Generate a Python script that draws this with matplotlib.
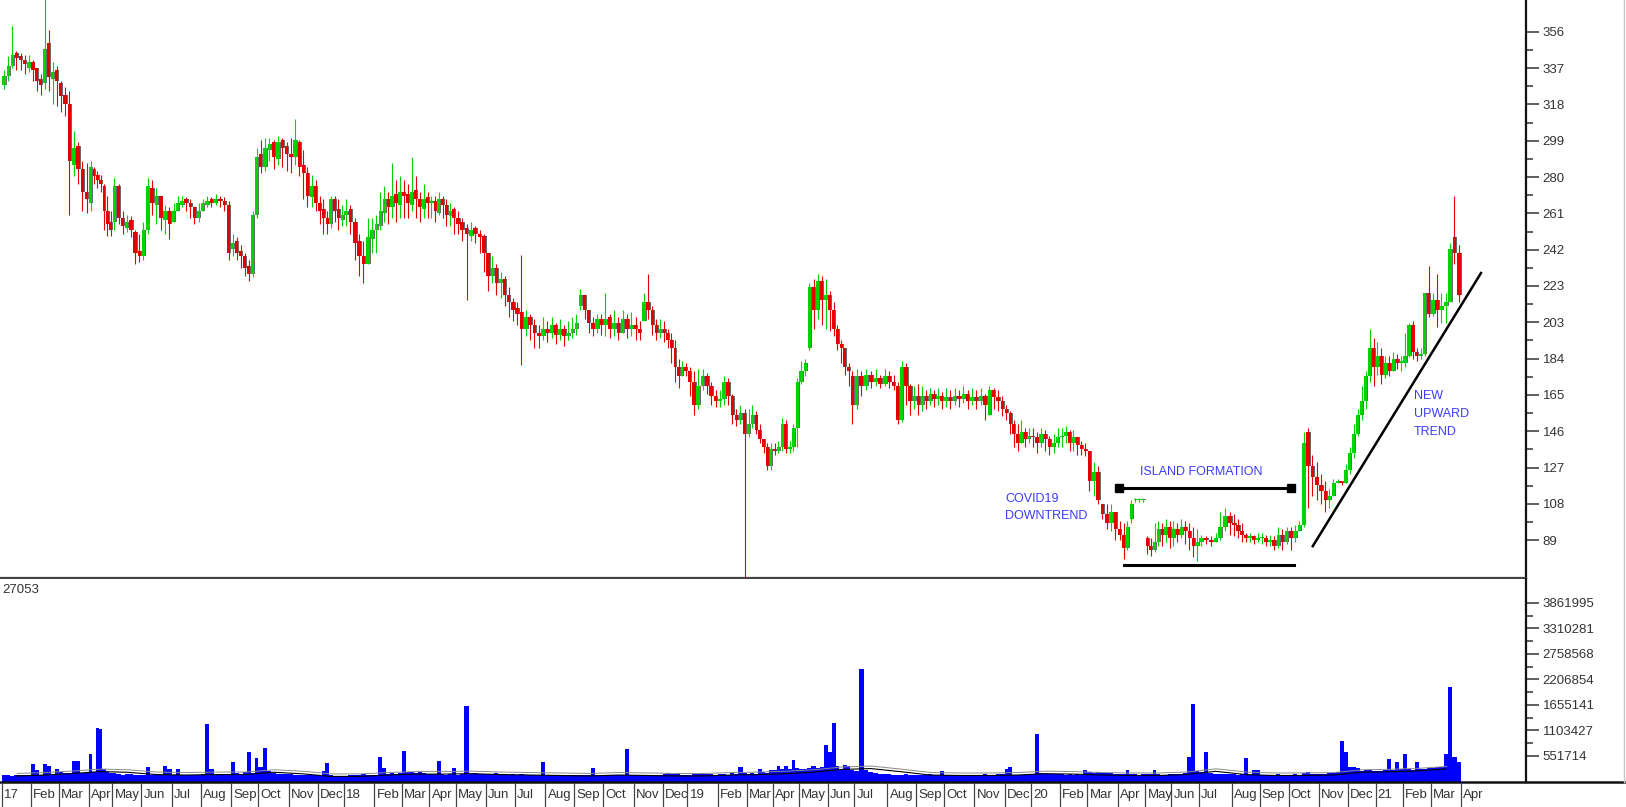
import numpy as np
import matplotlib
matplotlib.use("Agg")
import matplotlib.pyplot as plt
import matplotlib.patheffects as pe
from matplotlib.lines import Line2D
from matplotlib.patches import Rectangle

plt.rcParams['font.family'] = ['Liberation Sans', 'DejaVu Sans']

# trading days per month, Jan 2017 .. Mar 2021
month_days = [
    21, 20, 22, 17, 21, 22, 21, 22, 20, 22, 21, 19,   # 2017
    22, 20, 20, 19, 22, 21, 22, 21, 21, 22, 21, 18,   # 2018
    22, 21, 19, 19, 21, 19, 24, 21, 20, 22, 22, 19,   # 2019
    21, 20, 22, 20, 19, 20, 24, 20, 21, 22, 21, 20,   # 2020
    20, 20, 22,                                       # 2021
]
month_labels = (
    ['17', 'Feb', 'Mar', 'Apr', 'May', 'Jun', 'Jul', 'Aug', 'Sep', 'Oct', 'Nov', 'Dec']
    + ['18', 'Feb', 'Mar', 'Apr', 'May', 'Jun', 'Jul', 'Aug', 'Sep', 'Oct', 'Nov', 'Dec']
    + ['19', 'Feb', 'Mar', 'Apr', 'May', 'Jun', 'Jul', 'Aug', 'Sep', 'Oct', 'Nov', 'Dec']
    + ['20', 'Feb', 'Mar', 'Apr', 'May', 'Jun', 'Jul', 'Aug', 'Sep', 'Oct', 'Nov', 'Dec']
    + ['21', 'Feb', 'Mar', 'Apr']
)
BARS_PER_MONTH = 7

# price bars (7 per month), one row per month
opens = [
    328, 333, 338, 345, 343, 341, 337,
    340, 337, 331, 329, 350, 331, 336,
    329, 323, 318, 286, 296, 284, 272,
    266, 284, 281, 278, 275, 262, 256,
    256, 275, 258, 253, 257, 251, 241,
    238, 252, 274, 265, 270, 257, 262,
    256, 262, 265, 268, 266, 264, 258,
    262, 265, 268, 266, 268, 267, 265,
    242, 246, 241, 238, 233, 229, 260,
    292, 285, 294, 298, 289, 299, 296,
    292, 290, 298, 286, 282, 269, 275,
    266, 263, 258, 255, 268, 263, 257,
    # 2018
    260, 263, 256, 246, 238, 234, 247,
    252, 254, 261, 268, 264, 271, 265,
    272, 271, 265, 273, 268, 263, 269,
    266, 267, 261, 268, 265, 259, 263,
    258, 256, 253, 249, 253, 250, 249,
    240, 228, 232, 224, 226, 218, 214,
    211, 209, 200, 206, 202, 198, 196,
    200, 198, 202, 197, 200, 196, 198,
    200, 212, 218, 210, 203, 200, 205,
    202, 206, 200, 203, 198, 205, 200,
    202, 200, 204, 214, 210, 202, 198,
    200, 198, 194, 190, 180, 175, 180,
    # 2019
    178, 172, 160, 170, 175, 170, 165,
    162, 163, 172, 165, 155, 152, 156,
    145, 150, 155, 147, 142, 138, 128,
    137, 136, 138, 150, 137, 138, 148,
    172, 178, 190, 222, 210, 225, 215,
    218, 210, 200, 192, 190, 180, 175,
    160, 175, 170, 176, 172, 174, 171,
    175, 172, 170, 152, 180, 170, 162,
    165, 160, 165, 162, 166, 163, 165,
    162, 164, 162, 165, 163, 166, 162,
    164, 162, 165, 155, 168, 164, 162,
    158, 156, 150, 145, 140, 146, 142,
    # 2020
    144, 143, 140, 145, 142, 138, 140,
    143, 144, 146, 140, 143, 139, 137,
    136, 120, 125, 108, 103, 98, 104,
    95, 92, 85, 100, 110, 110, 110,
    90, 86, 84, 88, 95, 92, 96,
    90, 95, 92, 96, 94, 90, 86,
    88, 90, 89, 88, 90, 96, 102,
    98, 97, 94, 92, 90, 91, 89,
    90, 90, 88, 89, 86, 92, 88,
    94, 90, 94, 97, 146, 128, 122,
    118, 115, 110, 112, 119, 120, 119,
    126, 135, 145, 155, 162, 175, 190,
    # 2021
    180, 186, 176, 182, 178, 184, 182,
    182, 186, 202, 188, 186, 187, 219,
    208, 215, 210, 212, 214, 248, 240,
]
highs = [
    336, 343, 359, 346, 345, 344, 344,
    341, 337, 334, 376, 357, 340, 338,
    330, 327, 325, 304, 298, 288, 287,
    288, 285, 283, 281, 276, 270, 262,
    279, 276, 262, 260, 259, 252, 250,
    256, 279, 278, 274, 270, 265, 264,
    266, 270, 270, 269, 268, 264, 266,
    268, 270, 269, 271, 270, 269, 267,
    250, 248, 244, 240, 236, 262, 295,
    299, 300, 300, 299, 301, 300, 298,
    300, 310, 299, 294, 285, 281, 278,
    270, 268, 262, 270, 270, 268, 265,
    # 2018
    268, 265, 258, 250, 246, 258, 258,
    260, 272, 275, 272, 287, 278, 280,
    278, 276, 290, 280, 272, 276, 272,
    270, 270, 272, 270, 268, 266, 264,
    262, 258, 255, 256, 254, 252, 250,
    240, 238, 234, 230, 228, 222, 216,
    214, 239, 210, 208, 205, 202, 206,
    204, 206, 203, 205, 202, 204, 206,
    208, 221, 218, 210, 206, 208, 208,
    219, 208, 210, 206, 210, 208, 209,
    206, 204, 219, 229, 212, 205, 205,
    204, 200, 198, 194, 184, 183, 182,
    # 2019
    180, 178, 179, 179, 177, 172, 168,
    168, 175, 174, 166, 158, 160, 158,
    158, 160, 157, 150, 142, 140, 140,
    140, 141, 153, 152, 141, 150, 174,
    183, 184, 224, 226, 229, 228, 226,
    220, 214, 202, 194, 190, 182, 178,
    179, 178, 179, 178, 179, 176, 179,
    178, 176, 172, 183, 182, 171, 170,
    171, 170, 168, 169, 168, 169, 167,
    169, 168, 169, 168, 170, 168, 169,
    168, 169, 166, 170, 169, 168, 165,
    160, 157, 152, 150, 152, 148, 148,
    # 2020
    148, 146, 148, 147, 144, 145, 148,
    148, 149, 147, 147, 143, 141, 140,
    136, 130, 128, 108, 108, 108, 104,
    99, 98, 99, 110, 111, 111, 111,
    91, 90, 98, 99, 98, 100, 99,
    99, 98, 100, 99, 98, 96, 95,
    92, 91, 91, 93, 104, 106, 104,
    103, 100, 98, 93, 93, 92, 93,
    93, 92, 92, 91, 96, 95, 96,
    96, 97, 99, 146, 148, 134, 130,
    124, 120, 116, 121, 121, 120, 129,
    138, 150, 158, 170, 178, 200, 195,
    # 2021
    193, 190, 186, 186, 188, 187, 186,
    198, 203, 204, 190, 190, 219, 233,
    219, 229, 219, 219, 245, 270, 244,
]
lows = [
    326, 330, 337, 336, 336, 334, 335,
    330, 325, 323, 326, 325, 318, 317,
    314, 312, 260, 280, 276, 262, 261,
    262, 276, 274, 272, 252, 249, 249,
    252, 255, 250, 251, 248, 234, 235,
    236, 250, 260, 255, 252, 250, 247,
    257, 262, 264, 262, 258, 255, 256,
    263, 264, 264, 265, 264, 262, 236,
    238, 236, 232, 228, 225, 227, 258,
    282, 283, 288, 284, 286, 285, 283,
    282, 286, 280, 268, 264, 264, 262,
    255, 250, 250, 253, 256, 252, 254,
    # 2018
    254, 250, 236, 228, 224, 234, 240,
    240, 252, 256, 255, 258, 256, 258,
    258, 258, 262, 258, 256, 258, 258,
    258, 256, 260, 258, 254, 254, 250,
    250, 246, 215, 246, 245, 240, 230,
    220, 224, 218, 216, 212, 206, 204,
    202, 181, 196, 194, 190, 190, 194,
    193, 195, 192, 194, 191, 194, 195,
    197, 210, 205, 198, 196, 198, 197,
    196, 195, 196, 194, 198, 195, 196,
    194, 194, 204, 205, 197, 194, 195,
    193, 190, 182, 172, 169, 175, 175,
    # 2019
    165, 155, 158, 168, 166, 160, 159,
    159, 160, 160, 150, 149, 150, 68,
    143, 148, 145, 140, 135, 126, 126,
    134, 135, 136, 135, 135, 136, 138,
    171, 175, 189, 200, 205, 202, 200,
    199, 196, 189, 182, 176, 170, 150,
    158, 165, 168, 169, 170, 169, 170,
    169, 168, 150, 151, 160, 155, 158,
    155, 157, 158, 160, 159, 160, 158,
    159, 158, 160, 159, 161, 158, 160,
    158, 160, 152, 155, 158, 157, 154,
    152, 145, 138, 136, 140, 138, 140,
    # 2020
    138, 135, 138, 136, 134, 135, 138,
    138, 140, 136, 136, 134, 134, 133,
    115, 112, 108, 100, 95, 94, 89,
    89, 79, 84, 98, 109, 109, 109,
    82, 81, 83, 86, 86, 88, 85,
    86, 88, 90, 87, 84, 80, 78,
    86, 87, 86, 88, 89, 94, 92,
    91, 90, 88, 88, 88, 87, 88,
    87, 86, 86, 84, 85, 84, 87,
    84, 88, 94, 96, 106, 112, 110,
    108, 104, 106, 115, 119, 118, 119,
    124, 132, 144, 152, 158, 172, 170,
    # 2021
    176, 171, 174, 175, 179, 179, 178,
    180, 185, 184, 183, 184, 186, 206,
    207, 201, 203, 203, 214, 234, 214,
]
closes = [
    333, 338, 344, 342, 341, 339, 340,
    336, 330, 328, 347, 332, 335, 330,
    322, 318, 288, 295, 284, 272, 268,
    285, 280, 278, 276, 262, 255, 252,
    275, 258, 254, 256, 252, 240, 238,
    252, 275, 266, 270, 258, 262, 255,
    262, 266, 267, 266, 264, 258, 262,
    266, 267, 266, 268, 267, 265, 240,
    245, 240, 238, 232, 229, 260, 290,
    285, 295, 297, 290, 298, 295, 292,
    290, 299, 285, 282, 270, 275, 266,
    262, 258, 255, 268, 262, 258, 260,
    # 2018
    262, 256, 245, 238, 234, 248, 252,
    255, 262, 268, 264, 270, 266, 272,
    270, 266, 272, 268, 264, 268, 266,
    266, 262, 268, 265, 260, 262, 258,
    255, 252, 250, 252, 250, 248, 240,
    228, 232, 224, 226, 218, 214, 210,
    208, 200, 206, 202, 198, 196, 200,
    198, 202, 197, 200, 196, 198, 200,
    203, 218, 210, 203, 200, 205, 202,
    205, 200, 203, 198, 205, 200, 202,
    200, 198, 214, 210, 202, 198, 200,
    198, 194, 190, 180, 175, 180, 178,
    # 2019
    172, 160, 170, 175, 170, 165, 162,
    163, 172, 165, 155, 152, 156, 145,
    150, 155, 147, 142, 138, 128, 137,
    136, 138, 150, 137, 138, 148, 172,
    178, 182, 222, 210, 225, 215, 218,
    210, 200, 192, 190, 180, 178, 160,
    175, 170, 176, 172, 174, 171, 175,
    172, 170, 152, 180, 170, 162, 165,
    160, 165, 162, 166, 163, 165, 162,
    164, 162, 165, 163, 166, 162, 164,
    162, 165, 160, 168, 164, 162, 158,
    156, 150, 145, 140, 146, 142, 144,
    # 2020
    143, 140, 145, 142, 138, 140, 143,
    144, 146, 140, 143, 139, 137, 136,
    120, 125, 110, 103, 98, 104, 95,
    92, 85, 96, 108, 110, 110, 110,
    86, 84, 88, 95, 92, 96, 90,
    95, 92, 96, 94, 90, 86, 88,
    90, 89, 88, 90, 96, 102, 98,
    97, 94, 92, 90, 91, 89, 90,
    90, 88, 89, 86, 92, 88, 94,
    90, 94, 97, 140, 128, 122, 118,
    115, 110, 112, 119, 120, 119, 126,
    135, 145, 155, 162, 175, 190, 180,
    # 2021
    186, 176, 182, 178, 184, 182, 182,
    186, 202, 188, 186, 187, 219, 208,
    215, 210, 212, 214, 242, 240, 218,
]

# volume per bar, thousands of shares
volumes_k = [
    130, 140, 120, 130, 140, 130, 150,
    370, 250, 150, 380, 330, 160, 270,
    200, 180, 190, 450, 436, 180, 200,
    587, 200, 1150, 1130, 273, 200, 180,
    180, 160, 150, 170, 160, 140, 150,
    150, 320, 150, 160, 150, 330, 273,
    150, 270, 140, 130, 140, 130, 140,
    160, 1235, 260, 150, 140, 130, 150,
    420, 180, 170, 200, 630, 190, 500,
    320, 717, 220, 180, 170, 160, 170,
    160, 150, 140, 150, 140, 130, 150,
    140, 220, 393, 130, 120, 110, 120,
    # 2018
    120, 130, 140, 150, 160, 140, 130,
    150, 523, 290, 170, 180, 170, 180,
    665, 200, 210, 190, 200, 180, 170,
    170, 160, 443, 160, 150, 160, 285,
    150, 160, 1637, 170, 180, 170, 160,
    170, 160, 180, 170, 160, 150, 160,
    150, 160, 150, 140, 150, 140, 415,
    150, 140, 150, 140, 150, 130, 140,
    140, 130, 150, 140, 285, 140, 130,
    140, 150, 140, 130, 150, 702, 140,
    130, 140, 150, 140, 130, 140, 150,
    170, 180, 160, 170, 190, 150, 140,
    # 2019
    150, 160, 170, 180, 160, 170, 150,
    160, 170, 150, 180, 160, 307, 180,
    170, 180, 160, 270, 200, 190, 250,
    240, 335, 260, 330, 280, 464, 290,
    260, 280, 300, 335, 290, 310, 788,
    644, 1263, 345, 250, 360, 330, 250,
    220, 2430, 250, 200, 180, 170, 160,
    160, 150, 140, 150, 160, 150, 140,
    150, 140, 150, 160, 150, 140, 233,
    150, 140, 150, 140, 130, 140, 150,
    140, 150, 160, 140, 150, 160, 170,
    260, 307, 150, 140, 130, 140, 150,
    # 2020
    160, 1020, 180, 170, 160, 170, 160,
    160, 150, 160, 150, 160, 150, 250,
    200, 190, 210, 200, 190, 180, 170,
    170, 160, 250, 170, 160, 150, 160,
    160, 170, 250, 160, 150, 140, 160,
    160, 170, 160, 180, 523, 1667, 220,
    200, 637, 180, 170, 160, 170, 160,
    160, 150, 160, 500, 150, 250, 250,
    150, 140, 150, 140, 160, 150, 140,
    150, 160, 150, 180, 200, 170, 160,
    160, 170, 180, 190, 200, 881, 637,
    320, 320, 300, 220, 250, 240, 230,
    # 2021
    220, 230, 240, 480, 250, 413, 260,
    587, 260, 250, 421, 280, 270, 300,
    300, 310, 320, 587, 2050, 536, 418,
]

# volume moving average, one reading per month, thousands
vol_ma_k = [
    120, 140, 175, 215, 200, 150, 140, 150, 150, 200, 165, 110,
    110, 140, 160, 160, 170, 150, 140, 130, 120, 140, 130, 120,
    120, 140, 150, 170, 200, 260, 280, 210, 140, 130, 130, 140,
    170, 160, 140, 130, 130, 150, 220, 150, 130, 130, 140, 200,
    210, 230, 270,
]

price_tick_labels = ['89', '108', '127', '146', '165', '184', '203', '223',
                     '242', '261', '280', '299', '318', '337', '356']
vol_tick_labels = ['551714', '1103427', '1655141', '2206854',
                   '2758568', '3310281', '3861995']

# ---- layout (pixels) ----
W, H = 1626, 807
AXIS_X = 1526
X0_PX = 2.0                 # left edge of Jan 2017
PX_PER_DAY = 1459 / 1058.0

RED = '#e40000'
GREEN = '#00d400'
BLUE_TXT = '#3b3bff'
TXT = '#333333'


def frac(x0, y0, x1, y1):
    return [x0 / W, 1 - y1 / H, (x1 - x0) / W, (y1 - y0) / H]


starts = np.concatenate([[0], np.cumsum(month_days)])
x, step = [], []
for m, nd in enumerate(month_days):
    s = nd / BARS_PER_MONTH
    for k in range(BARS_PER_MONTH):
        x.append(starts[m] + (k + 0.5) * s)
        step.append(s)
x = np.array(x)
step = np.array(step)

o = np.array(opens, float)
h = np.array(highs, float)
l = np.array(lows, float)
c = np.array(closes, float)
h = np.maximum(h, np.maximum(o, c))
l = np.minimum(l, np.minimum(o, c))
up = c >= o
cols = np.where(up, GREEN, RED)
body_bot = np.minimum(o, c)
body_h = np.maximum(np.abs(c - o), 0.9)

xlim = (-X0_PX / PX_PER_DAY, (AXIS_X - X0_PX) / PX_PER_DAY)

fig = plt.figure(figsize=(W / 100, H / 100), dpi=100)
ax = fig.add_axes(frac(0, 0, AXIS_X, 578))
axv = fig.add_axes(frac(0, 579, AXIS_X, 781.5))
axm = fig.add_axes(frac(0, 782.5, AXIS_X, 807))

# ---- price panel ----
bw = 0.8 * step
ax.bar(x + 0.7, body_h, bottom=body_bot, width=bw, color='#6a6a6a', lw=0, zorder=1)
ax.vlines(x, l, h, colors=cols, lw=0.8, zorder=2)
ax.bar(x, body_h, bottom=body_bot, width=bw, color=cols, lw=0, zorder=3)

ax.set_xlim(*xlim)
ax.set_ylim(69.2, 372.65)
pt = np.linspace(89, 356, len(price_tick_labels))
ax.set_yticks(pt, price_tick_labels)
ax.set_yticks((pt[:-1] + pt[1:]) / 2, minor=True)
ax.yaxis.tick_right()
ax.set_xticks([])
ax.tick_params(axis='y', which='major', length=9.5, width=1.1, color='#333',
               pad=2.5, labelsize=9.5, labelcolor=TXT)
ax.tick_params(axis='y', which='minor', length=5, width=1.1, color='#333')
for side in ['left', 'top']:
    ax.spines[side].set_visible(False)
ax.spines['right'].set_linewidth(1.6)
ax.spines['right'].set_color('#111')
ax.spines['bottom'].set_linewidth(1.6)
ax.spines['bottom'].set_color('#444')

# annotations
ax.plot([810.2, 934.5], [116.7, 116.7], color='black', lw=2.2, marker='s', ms=5.5,
        zorder=5)
ax.plot([813.5, 937.0], [76.2, 76.2], color='black', lw=2.2, zorder=5)
ax.plot([950.5, 1072.5], [85.9, 229.3], color='black', lw=1.8, zorder=5)
ax.text(825.2, 124.6, 'ISLAND FORMATION', color=BLUE_TXT, fontsize=9,
        va='center', ha='left')
ax.text(727.3, 110.5, 'COVID19', color=BLUE_TXT, fontsize=9, va='center', ha='left')
ax.text(727.3, 101.6, 'DOWNTREND', color=BLUE_TXT, fontsize=9, va='center', ha='left')
for txt, yv in [('NEW', 164.6), ('UPWARD', 155.2), ('TREND', 145.7)]:
    ax.text(1023.9, yv, txt, color=BLUE_TXT, fontsize=9, va='center', ha='left')

# ---- volume panel ----
vol = np.array(volumes_k, float) * 1000
axv.bar(x, vol, width=step, color='#0000ff', lw=0, zorder=2)
centers = starts[:-1] + np.array(month_days) / 2
axv.plot(centers, np.array(vol_ma_k) * 1000, color='black', lw=0.8, zorder=3,
         path_effects=[pe.SimpleLineShadow(offset=(0.6, 1.8), shadow_color='#8a8a8a',
                                           alpha=1.0, linewidth=0.7), pe.Normal()])
axv.set_xlim(*xlim)
axv.set_ylim(0, 4381000)
vt = 551713.57 * np.arange(1, len(vol_tick_labels) + 1)
axv.set_yticks(vt, vol_tick_labels)
axv.set_yticks((vt[:-1] + vt[1:]) / 2, minor=True)
axv.yaxis.tick_right()
axv.set_xticks([])
axv.tick_params(axis='y', which='major', length=9.5, width=1.1, color='#333',
                pad=2.5, labelsize=9.5, labelcolor=TXT)
axv.tick_params(axis='y', which='minor', length=5, width=1.1, color='#333')
for side in ['left', 'top', 'bottom']:
    axv.spines[side].set_visible(False)
axv.spines['right'].set_linewidth(1.6)
axv.spines['right'].set_color('#111')
axv.text(0.0015, 0.946, '27053', transform=axv.transAxes, fontsize=9.5,
         color=TXT, va='center', ha='left')

# ---- month row ----
axm.set_xlim(*xlim)
axm.set_ylim(0, 1)
axm.axis('off')
for m, lab in enumerate(month_labels):
    x0 = starts[m]
    x1 = starts[m + 1] if m + 1 < len(starts) else xlim[1]
    axm.vlines(x0, 0, 1, color='#444', lw=0.9)
    t = axm.text(x0 + 1.6, 0.5, lab, fontsize=9.5, color=TXT, va='center', ha='left')
    t.set_clip_path(Rectangle((x0, 0), x1 - x0, 1, transform=axm.transData))

# frame lines outside the axes
yb = 1 - 782.3 / H
fig.add_artist(Line2D([0, 1624 / W], [yb, yb], transform=fig.transFigure,
                      color='#111', lw=1.8))
fig.add_artist(Line2D([1624 / W, 1624 / W], [yb, 1], transform=fig.transFigure,
                      color='#c8c8c8', lw=1.0))

fig.savefig('out.png', dpi=100)
